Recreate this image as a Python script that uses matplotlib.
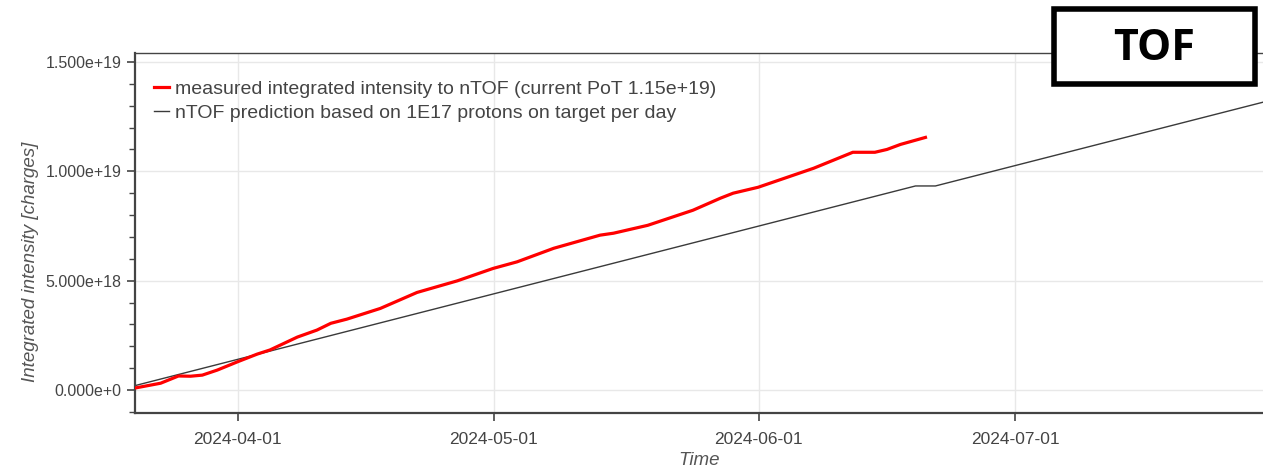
import numpy as np
import pandas as pd
import matplotlib
matplotlib.use("Agg")
import matplotlib.pyplot as plt
import matplotlib.dates as mdates
from matplotlib.ticker import FuncFormatter, MultipleLocator
from matplotlib.patches import Rectangle

plt.rcParams['font.family'] = ['Liberation Sans', 'DejaVu Sans']

# measured integrated intensity (units of 1e18 charges)
measured_dates = ["2024-03-20 00:00", "2024-03-23 00:00", "2024-03-25 02:00", "2024-03-26 12:00",
                  "2024-03-27 21:00", "2024-03-29 15:00", "2024-04-01 00:00", "2024-04-03 07:00",
                  "2024-04-04 19:00", "2024-04-08 00:00", "2024-04-10 07:00", "2024-04-11 22:00",
                  "2024-04-13 19:00", "2024-04-17 17:00", "2024-04-22 00:00", "2024-04-26 17:00",
                  "2024-04-30 22:00", "2024-05-03 17:00", "2024-05-08 00:00", "2024-05-13 10:00",
                  "2024-05-15 00:00", "2024-05-19 00:00", "2024-05-24 07:00", "2024-05-27 12:00",
                  "2024-05-29 00:00", "2024-05-31 22:00", "2024-06-07 10:00", "2024-06-12 00:00",
                  "2024-06-14 14:00", "2024-06-16 00:00", "2024-06-17 14:00", "2024-06-20 12:00"]
measured_e18 = [0.09, 0.31, 0.64, 0.63,
                0.68, 0.91, 1.29, 1.64,
                1.83, 2.42, 2.74, 3.05,
                3.24, 3.73, 4.46, 4.99,
                5.56, 5.86, 6.48, 7.08,
                7.17, 7.53, 8.22, 8.77,
                9.00, 9.27, 10.14, 10.87,
                10.87, 11.00, 11.23, 11.55]

# prediction: 1E17 protons on target per day
pred_dates = ["2024-03-20 00:00", "2024-06-19 08:00", "2024-06-21 16:00", "2024-07-30 00:00"]
pred_e18 = [0.20, 9.33, 9.33, 13.16]

label_meas = "measured integrated intensity to nTOF (current PoT 1.15e+19)"
label_pred = "nTOF prediction based on 1E17 protons on target per day"
date_ticks = ["2024-04-01", "2024-05-01", "2024-06-01", "2024-07-01"]

meas_x = pd.to_datetime(measured_dates)
meas_y = np.array(measured_e18) * 1e18
pred_x = pd.to_datetime(pred_dates)
pred_y = np.array(pred_e18) * 1e18

fig = plt.figure(figsize=(12.63, 4.69), dpi=100)
ax = fig.add_axes([135 / 1263, 56 / 469, 1 - 135 / 1263, (413 - 53) / 469])

ax.plot(meas_x, meas_y, color="#ff0000", lw=2.3, label=label_meas, zorder=3)
ax.plot(pred_x, pred_y, color="#3a3a3a", lw=1.0, label=label_pred, zorder=2)

ax.set_xlim(pd.Timestamp("2024-03-20"), pd.Timestamp("2024-07-30"))
ax.set_ylim(-1.052e18, 15.41e18)


def sci_fmt(v, pos):
    if v == 0:
        return "0.000e+0"
    e = int(np.floor(np.log10(abs(v))))
    return f"{v / 10**e:.3f}e+{e}"


ax.yaxis.set_major_locator(MultipleLocator(5e18))
ax.yaxis.set_minor_locator(MultipleLocator(1e18))
ax.yaxis.set_major_formatter(FuncFormatter(sci_fmt))
ax.set_xticks(pd.to_datetime(date_ticks))
ax.xaxis.set_major_formatter(mdates.DateFormatter("%Y-%m-%d"))

ax.grid(True, which="major", color="#e8e8e8", lw=1.0, zorder=0)
ax.tick_params(axis="y", which="major", labelsize=11.5, labelcolor="#444444",
               color="#444444", length=6, width=1.2)
ax.tick_params(axis="x", which="major", labelsize=12.5, labelcolor="#444444",
               color="#444444", length=6, width=1.2, pad=8)
ax.tick_params(axis="y", which="minor", length=4, width=1.0, color="#444444")

for side in ["left", "bottom"]:
    ax.spines[side].set_color("#444444")
    ax.spines[side].set_linewidth(1.6)
ax.spines["top"].set_color("#444444")
ax.spines["top"].set_linewidth(1.0)
ax.spines["right"].set_visible(False)

ax.set_ylabel("Integrated intensity [charges]", fontsize=13.5, style="italic",
              color="#555555")
ax.yaxis.set_label_coords(-0.085, 0.42)
ax.set_xlabel("Time", fontsize=13.5, style="italic", color="#555555", labelpad=3)

leg = ax.legend(loc="upper left", frameon=False, fontsize=14, handlelength=0.75,
                handletextpad=0.35, labelspacing=0.3, borderaxespad=0.0,
                bbox_to_anchor=(0.01, 0.945))
for t in leg.get_texts():
    t.set_color("#444444")

# TOF label box
box = Rectangle((1054 / 1263, (469 - 84) / 469), 201 / 1263, 75 / 469,
                transform=fig.transFigure, facecolor="white", edgecolor="black",
                lw=4, zorder=10)
fig.patches.append(box)
fig.text((1054 + 100.5) / 1263, (469 - 49) / 469, "TOF", fontsize=31,
         fontweight="bold", family="Open Sans", ha="center", va="center", zorder=11)

fig.savefig("out.png", dpi=100)
